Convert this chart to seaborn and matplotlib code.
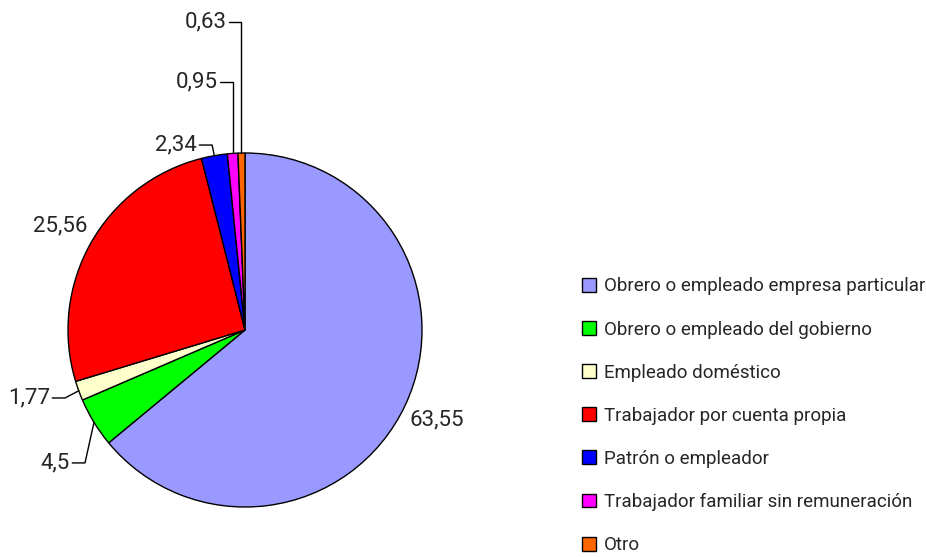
import numpy as np
import matplotlib.pyplot as plt
import seaborn as sns

categories = [
    'Obrero o empleado empresa particular',
    'Obrero o empleado del gobierno',
    'Empleado doméstico',
    'Trabajador por cuenta propia',
    'Patrón o empleador',
    'Trabajador familiar sin remuneración',
    'Otro',
]
values = [63.55, 4.5, 1.77, 25.56, 2.34, 0.95, 0.63]
value_labels = ['63,55', '4,5', '1,77', '25,56', '2,34', '0,95', '0,63']
colors = ['#9999FF', '#00FF00', '#FFFFCC', '#FF0000', '#0000FF', '#FF00FF', '#FF6600']

sns.set_theme(style="white")
plt.rcParams['font.family'] = ['Roboto', 'DejaVu Sans']

W, H = 926, 557
fig = plt.figure(figsize=(W / 100, H / 100), dpi=100)
cx, cy, r = 245, 330, 177
ax = fig.add_axes([(cx - r) / W, (H - cy - r) / H, 2 * r / W, 2 * r / H])

wedges, _ = ax.pie(values, colors=colors, startangle=90, counterclock=False,
                   wedgeprops=dict(edgecolor='black', linewidth=1))
ax.set_xlim(-1, 1)
ax.set_ylim(-1, 1)
ax.set_aspect('equal')
ax.axis('off')

# label layout: direct labels at a radius, leader labels with a knee point
layout = [
    ('direct', 1.2),
    ('leader', (-0.904, -0.751)),
    ('leader', (-1.017, -0.384)),
    ('direct', 1.2),
    ('leader', (-0.186, 1.045)),
    ('leader', ('v', 1.40)),
    ('leader', ('v', 1.74)),
]

for w, lab, (mode, pos) in zip(wedges, value_labels, layout):
    ang = np.deg2rad((w.theta1 + w.theta2) / 2)
    ex, ey = np.cos(ang), np.sin(ang)
    if mode == 'direct':
        ax.text(pos * ex, pos * ey, lab, ha='center', va='center', fontsize=16,
                clip_on=False)
    else:
        if pos[0] == 'v':
            kx, ky = ex, pos[1]
        else:
            kx, ky = pos
        tx = kx - 0.072
        ax.plot([ex, kx, tx], [ey, ky, ky], color='black', lw=1, clip_on=False)
        ax.text(tx - 0.012, ky, lab, ha='right', va='center', fontsize=16,
                clip_on=False)

leg = fig.legend(wedges, categories, loc='upper left',
                 bbox_to_anchor=(573 / W, 1 - 268 / H), frameon=False,
                 fontsize=13.5, handlelength=0.75, handleheight=0.75,
                 handletextpad=0.4, labelspacing=1.34, borderpad=0)

fig.savefig('out.png', dpi=100)
